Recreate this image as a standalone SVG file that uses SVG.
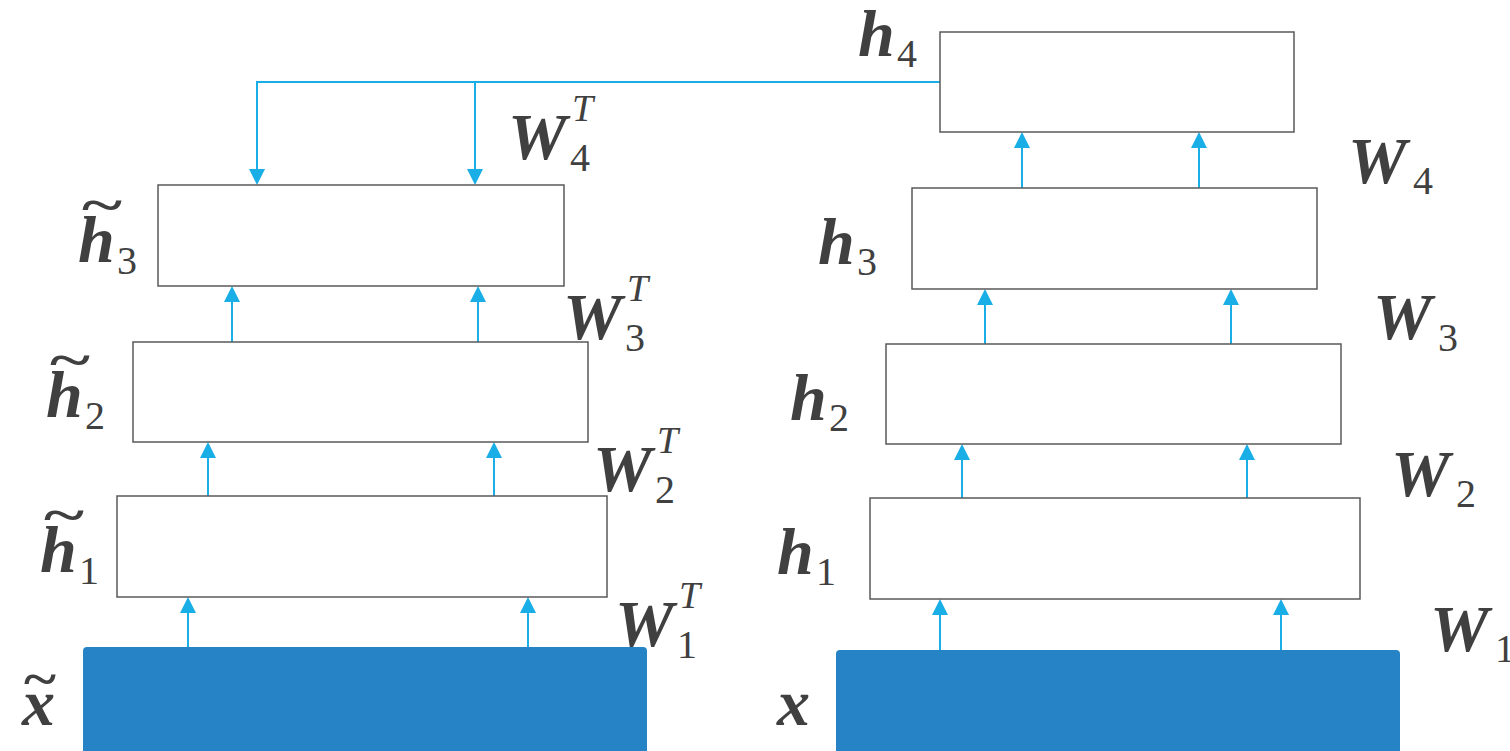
<svg xmlns="http://www.w3.org/2000/svg" width="1510" height="751" viewBox="0 0 1510 751">
<style>
.box{fill:#fff;stroke:#595959;stroke-width:1.5}
.inp{fill:#2683c6}
.c{stroke:#1aaee6;stroke-width:2;fill:none}
.m{font-family:"Liberation Serif",serif;font-weight:bold;font-style:italic;font-size:66px;fill:#404040}
.s{font-family:"Liberation Serif",serif;font-size:40px;fill:#404040}
.t{font-family:"Liberation Serif",serif;font-style:italic;font-size:38px;fill:#404040}
.tl{font-family:"Liberation Serif",serif;font-weight:bold;font-size:50px;fill:#404040}
</style>
<defs>
<marker id="a" markerWidth="8" markerHeight="8" refX="7" refY="4" orient="auto" markerUnits="strokeWidth">
<path d="M0,0 L8,4 L0,8 Z" fill="#1aaee6"/>
</marker>
</defs>
<g id="connectors">
<line class="c" x1="188" y1="647" x2="188" y2="599" marker-end="url(#a)"/>
<line class="c" x1="528" y1="647" x2="528" y2="599" marker-end="url(#a)"/>
<line class="c" x1="208" y1="496" x2="208" y2="444" marker-end="url(#a)"/>
<line class="c" x1="494" y1="496" x2="494" y2="444" marker-end="url(#a)"/>
<line class="c" x1="232" y1="342" x2="232" y2="288" marker-end="url(#a)"/>
<line class="c" x1="478" y1="342" x2="478" y2="288" marker-end="url(#a)"/>
<polyline class="c" points="940,82 257,82 257,183" marker-end="url(#a)"/>
<line class="c" x1="475" y1="82" x2="475" y2="183" marker-end="url(#a)"/>
<line class="c" x1="940" y1="650" x2="940" y2="601" marker-end="url(#a)"/>
<line class="c" x1="1281" y1="650" x2="1281" y2="601" marker-end="url(#a)"/>
<line class="c" x1="962" y1="498" x2="962" y2="446" marker-end="url(#a)"/>
<line class="c" x1="1247" y1="498" x2="1247" y2="446" marker-end="url(#a)"/>
<line class="c" x1="985" y1="344" x2="985" y2="291" marker-end="url(#a)"/>
<line class="c" x1="1231" y1="344" x2="1231" y2="291" marker-end="url(#a)"/>
<line class="c" x1="1022" y1="188" x2="1022" y2="134" marker-end="url(#a)"/>
<line class="c" x1="1199" y1="188" x2="1199" y2="134" marker-end="url(#a)"/>
</g>
<g id="xt"><path class="inp" d="M83,751 V651 Q83,647 87,647 H643 Q647,647 647,651 V751 Z"/>
<text class="tl" x="24" y="696" textLength="32" lengthAdjust="spacingAndGlyphs">~</text><text class="m" x="22" y="725">x</text></g>
<g id="ht1"><rect class="box" x="117" y="496" width="490" height="101"/>
<text class="tl" x="44" y="532" textLength="40" lengthAdjust="spacingAndGlyphs">~</text><text class="m" x="40" y="572">h</text><text class="s" x="79" y="584">1</text></g>
<g id="ht2"><rect class="box" x="133" y="342" width="455" height="100"/>
<text class="tl" x="50" y="377" textLength="40" lengthAdjust="spacingAndGlyphs">~</text><text class="m" x="46" y="417">h</text><text class="s" x="85" y="429">2</text></g>
<g id="ht3"><rect class="box" x="158" y="185" width="406" height="101"/>
<text class="tl" x="82" y="222" textLength="40" lengthAdjust="spacingAndGlyphs">~</text><text class="m" x="78" y="262">h</text><text class="s" x="117" y="274">3</text></g>
<g id="x"><path class="inp" d="M836,751 V654 Q836,650 840,650 H1396 Q1400,650 1400,654 V751 Z"/>
<text class="m" x="777" y="725">x</text></g>
<g id="h1"><rect class="box" x="870" y="498" width="490" height="101"/>
<text class="m" x="777" y="574">h</text><text class="s" x="816" y="585">1</text></g>
<g id="h2"><rect class="box" x="886" y="344" width="455" height="100"/>
<text class="m" x="790" y="420">h</text><text class="s" x="829" y="431">2</text></g>
<g id="h3"><rect class="box" x="912" y="188" width="405" height="101"/>
<text class="m" x="818" y="264">h</text><text class="s" x="857" y="275">3</text></g>
<g id="h4"><rect class="box" x="940" y="32" width="354" height="100"/>
<text class="m" x="858" y="56">h</text><text class="s" x="897" y="67">4</text></g>
<g id="wlabels">
<text class="m" x="508" y="159">W</text><text class="t" x="572" y="121">T</text><text class="s" x="570" y="171">4</text>
<text class="m" x="563" y="339">W</text><text class="t" x="627" y="301">T</text><text class="s" x="625" y="351">3</text>
<text class="m" x="593" y="491">W</text><text class="t" x="657" y="453">T</text><text class="s" x="655" y="503">2</text>
<text class="m" x="615" y="646">W</text><text class="t" x="679" y="608">T</text><text class="s" x="677" y="658">1</text>
<text class="m" x="1348" y="183">W</text><text class="s" x="1413" y="194">4</text>
<text class="m" x="1373" y="339">W</text><text class="s" x="1438" y="351">3</text>
<text class="m" x="1391" y="496">W</text><text class="s" x="1456" y="507">2</text>
<text class="m" x="1430" y="651">W</text><text class="s" x="1495" y="662">1</text>
</g>
</svg>
